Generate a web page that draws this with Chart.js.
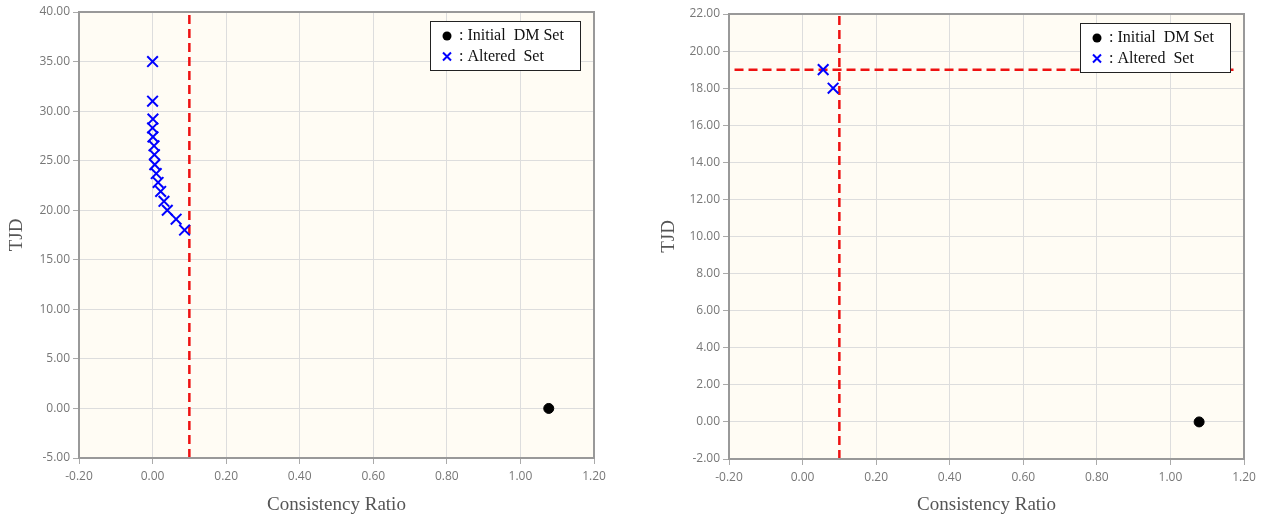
<!DOCTYPE html>
<html>
<head>
<meta charset="utf-8">
<script src="https://cdn.jsdelivr.net/npm/chart.js@4/dist/chart.umd.min.js"></script>
<style>
    body { margin: 0; background: #ffffff; }
    #esquerda { position: absolute; left: 0; top: 0; }
    #direita { position: absolute; left: 632px; top: 0; }
</style>
</head>
<body>
<canvas id="esquerda" width="632" height="518"></canvas>
<canvas id="direita" width="633" height="518"></canvas>
<script>
// grafico da esquerda
const crAlteradoEsq = [0.0, 0.0, 0.001, 0.0, 0.001, 0.004, 0.005, 0.006, 0.01, 0.015, 0.022, 0.031, 0.04, 0.064, 0.087];
const tjdAlteradoEsq = [35, 31, 29.2, 28.3, 27.4, 26.5, 25.6, 24.6, 23.7, 22.8, 21.9, 20.9, 20.0, 19.1, 18.0];
const crInicialEsq = [1.077];
const tjdInicialEsq = [0];

// grafico da direita
const crAlteradoDir = [0.056, 0.083];
const tjdAlteradoDir = [19, 18];
const crInicialDir = [1.078];
const tjdInicialDir = [0];

// linhas de corte
const limiteCR = 0.1;
const limiteTJD = 19;
const faixaLimiteTJD = [-0.185, 1.185];

const eixoX = { min: -0.2, max: 1.2, passo: 0.2 };
const eixoYEsq = { min: -5, max: 40, passo: 5 };
const eixoYDir = { min: -2, max: 22, passo: 2 };

const labelsLegenda = [': Initial  DM Set', ': Altered  Set'];

function pontos(xs, ys) {
    return xs.map((x, i) => ({ x: x, y: ys[i] }));
}

function formatar(v) {
    if (Math.abs(v) < 1e-9) v = 0;
    return v.toFixed(2);
}

const fundoPlot = {
    id: 'fundoPlot',
    beforeDraw(chart) {
        const a = chart.chartArea;
        const ctx = chart.ctx;
        ctx.save();
        ctx.fillStyle = '#fffcf4';
        ctx.fillRect(a.left, a.top, a.right - a.left, a.bottom - a.top);
        ctx.restore();
    },
    afterDatasetsDraw(chart) {
        const a = chart.chartArea;
        const ctx = chart.ctx;
        ctx.save();
        ctx.strokeStyle = '#999999';
        ctx.lineWidth = 2;
        ctx.strokeRect(a.left, a.top, a.right - a.left, a.bottom - a.top);

        // legenda dentro da area
        const w = 150, h = 49;
        const x0 = a.right - 14 - w;
        const y0 = a.top + 9;
        ctx.fillStyle = '#ffffff';
        ctx.fillRect(x0, y0, w, h);
        ctx.strokeStyle = '#222222';
        ctx.lineWidth = 1;
        ctx.strokeRect(x0 + 0.5, y0 + 0.5, w, h);

        ctx.fillStyle = '#000000';
        ctx.beginPath();
        ctx.arc(x0 + 17, y0 + 15, 4.5, 0, Math.PI * 2);
        ctx.fill();

        ctx.strokeStyle = '#0000ff';
        ctx.lineWidth = 2;
        ctx.beginPath();
        ctx.moveTo(x0 + 13, y0 + 31.5);
        ctx.lineTo(x0 + 21, y0 + 39.5);
        ctx.moveTo(x0 + 21, y0 + 31.5);
        ctx.lineTo(x0 + 13, y0 + 39.5);
        ctx.stroke();

        ctx.fillStyle = '#111111';
        ctx.font = '16px "Liberation Serif"';
        ctx.textBaseline = 'middle';
        ctx.fillText(labelsLegenda[0], x0 + 29, y0 + 15);
        ctx.fillText(labelsLegenda[1], x0 + 29, y0 + 36);
        ctx.restore();
    }
};

function montarConfig(dados, eixoY, ajuste) {
    return {
        type: 'scatter',
        data: { datasets: dados },
        options: {
            responsive: false,
            animation: false,
            layout: { padding: { top: ajuste.top, right: ajuste.right, left: 0, bottom: 0 } },
            plugins: {
                legend: { display: false },
                tooltip: { enabled: false }
            },
            scales: {
                x: {
                    type: 'linear',
                    min: eixoX.min,
                    max: eixoX.max,
                    afterFit(scale) { scale.height = ajuste.alturaX; },
                    ticks: {
                        stepSize: eixoX.passo,
                        color: '#777777',
                        font: { family: 'Open Sans', size: 12 },
                        padding: 5,
                        callback: formatar
                    },
                    grid: { color: '#dddddd', tickLength: 6, tickColor: '#aaaaaa' },
                    border: { color: '#999999', width: 2 },
                    title: {
                        display: true,
                        text: 'Consistency Ratio',
                        color: '#555555',
                        font: { family: 'Liberation Serif', size: 19 },
                        padding: { top: 0, bottom: 2 }
                    }
                },
                y: {
                    type: 'linear',
                    min: eixoY.min,
                    max: eixoY.max,
                    afterFit(scale) { scale.width = ajuste.larguraY; },
                    ticks: {
                        stepSize: eixoY.passo,
                        color: '#777777',
                        font: { family: 'Open Sans', size: 12 },
                        padding: 3,
                        callback: formatar
                    },
                    grid: { color: '#dddddd', tickLength: 6, tickColor: '#aaaaaa' },
                    border: { color: '#999999', width: 2 },
                    title: {
                        display: true,
                        text: 'TJD',
                        color: '#555555',
                        font: { family: 'Liberation Serif', size: 19 },
                        padding: { top: ajuste.tituloY, bottom: 0 }
                    }
                }
            }
        },
        plugins: [fundoPlot]
    };
}

function pontosIniciais(xs, ys) {
    return {
        label: 'Initial DM Set',
        data: pontos(xs, ys),
        pointStyle: 'circle',
        pointRadius: 5,
        backgroundColor: '#000000',
        borderColor: '#000000',
        order: 1
    };
}

function pontosAlterados(xs, ys) {
    return {
        label: 'Altered Set',
        data: pontos(xs, ys),
        pointStyle: 'crossRot',
        pointRadius: 7.5,
        borderWidth: 2,
        borderColor: '#0000ff',
        backgroundColor: '#0000ff',
        order: 0
    };
}

function linhaTracejada(data) {
    return {
        label: 'limite',
        data: data,
        showLine: true,
        pointRadius: 0,
        borderColor: '#ee1111',
        borderWidth: 2.5,
        borderDash: [9, 5],
        order: 2
    };
}

const dadosEsq = [
    pontosIniciais(crInicialEsq, tjdInicialEsq),
    pontosAlterados(crAlteradoEsq, tjdAlteradoEsq),
    linhaTracejada([{ x: limiteCR, y: eixoYEsq.min }, { x: limiteCR, y: eixoYEsq.max }])
];

const dadosDir = [
    pontosIniciais(crInicialDir, tjdInicialDir),
    pontosAlterados(crAlteradoDir, tjdAlteradoDir),
    linhaTracejada([{ x: limiteCR, y: eixoYDir.min }, { x: limiteCR, y: eixoYDir.max }]),
    linhaTracejada([{ x: faixaLimiteTJD[0], y: limiteTJD }, { x: faixaLimiteTJD[1], y: limiteTJD }])
];

new Chart(document.getElementById('esquerda'),
    montarConfig(dadosEsq, eixoYEsq, { top: 12, right: 38, alturaX: 60, larguraY: 79, tituloY: 6 }));

new Chart(document.getElementById('direita'),
    montarConfig(dadosDir, eixoYDir, { top: 14, right: 21, alturaX: 59, larguraY: 97, tituloY: 26 }));
</script>
</body>
</html>
